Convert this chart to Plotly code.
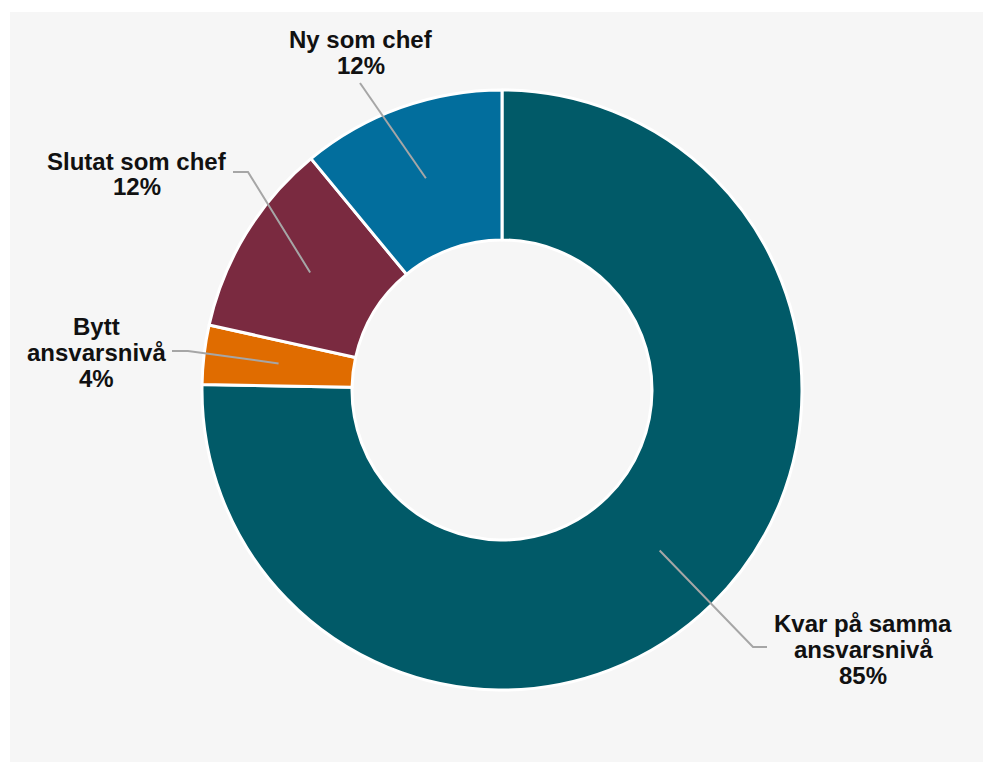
import math
import plotly.graph_objects as go

# ---- data (labels show rounded %) ----
labels = ["Kvar på samma ansvarsnivå", "Bytt ansvarsnivå", "Slutat som chef", "Ny som chef"]
values = [85, 3.6, 11.9, 12.4]
label_lines = [["Kvar på samma", "ansvarsnivå"], ["Bytt", "ansvarsnivå"], ["Slutat som chef"], ["Ny som chef"]]
colors = ["#015a68", "#e06c00", "#7a2a40", "#026e9d"]

# ---- layout geometry (pixels) ----
W, H = 983, 762
ML, MT = 10, 12
PW, PH = W - ML, H - MT
CX, CY, R = 502, 390, 300
HOLE = 0.5


def px(x):
    return (x - ML) / PW


def py(y):
    return (H - y) / PH


# label text placement: center x, first-line center y, elbow points (pixels)
label_pos = [
    dict(x=863, y=623, elbow=[(767, 647), (753, 647)]),
    dict(x=96, y=326, elbow=[(172, 351), (188, 351)]),
    dict(x=137, y=161, elbow=[(233, 172), (248, 172)]),
    dict(x=361, y=39, elbow=[(360, 83)]),
]
LINE_H = 26
FONT = "Liberation Sans, Arial, sans-serif"

fig = go.Figure()
fig.add_trace(go.Pie(
    labels=labels, values=values, sort=False, direction="clockwise", rotation=0,
    hole=HOLE, textinfo="none", hoverinfo="label+percent",
    marker=dict(colors=colors, line=dict(color="#ffffff", width=3)),
    domain=dict(x=[px(CX - R), px(CX + R)], y=[py(CY + R), py(CY - R)]),
    showlegend=False,
))

shapes = [dict(type="rect", xref="paper", yref="paper", x0=0, x1=1, y0=0, y1=1,
               fillcolor="#f6f6f6", line=dict(width=0), layer="below")]
annotations = []
total = sum(values)
cum = 0
rm = R * (1 + HOLE) / 2
for i, v in enumerate(values):
    mid = (cum + v / 2) / total * 2 * math.pi
    cum += v
    ex, ey = CX + rm * math.sin(mid), CY - rm * math.cos(mid)
    pts = label_pos[i]["elbow"] + [(ex, ey)]
    path = "M " + " L ".join(f"{px(a):.5f},{py(b):.5f}" for a, b in pts)
    shapes.append(dict(type="path", xref="paper", yref="paper", path=path,
                       line=dict(color="#a6a6a6", width=2), layer="above"))
    lines = label_lines[i] + [f"{round(v)}%"]
    for k, t in enumerate(lines):
        annotations.append(dict(
            x=px(label_pos[i]["x"]), y=py(label_pos[i]["y"] + k * LINE_H),
            xref="paper", yref="paper", text=f"<b>{t}</b>", showarrow=False,
            xanchor="center", yanchor="middle",
            font=dict(family=FONT, size=24, color="#111111")))

fig.update_layout(
    width=W, height=H, margin=dict(l=ML, r=0, t=MT, b=0),
    paper_bgcolor="#ffffff", plot_bgcolor="#f6f6f6",
    shapes=shapes, annotations=annotations,
)
fig.write_html("out.html")
